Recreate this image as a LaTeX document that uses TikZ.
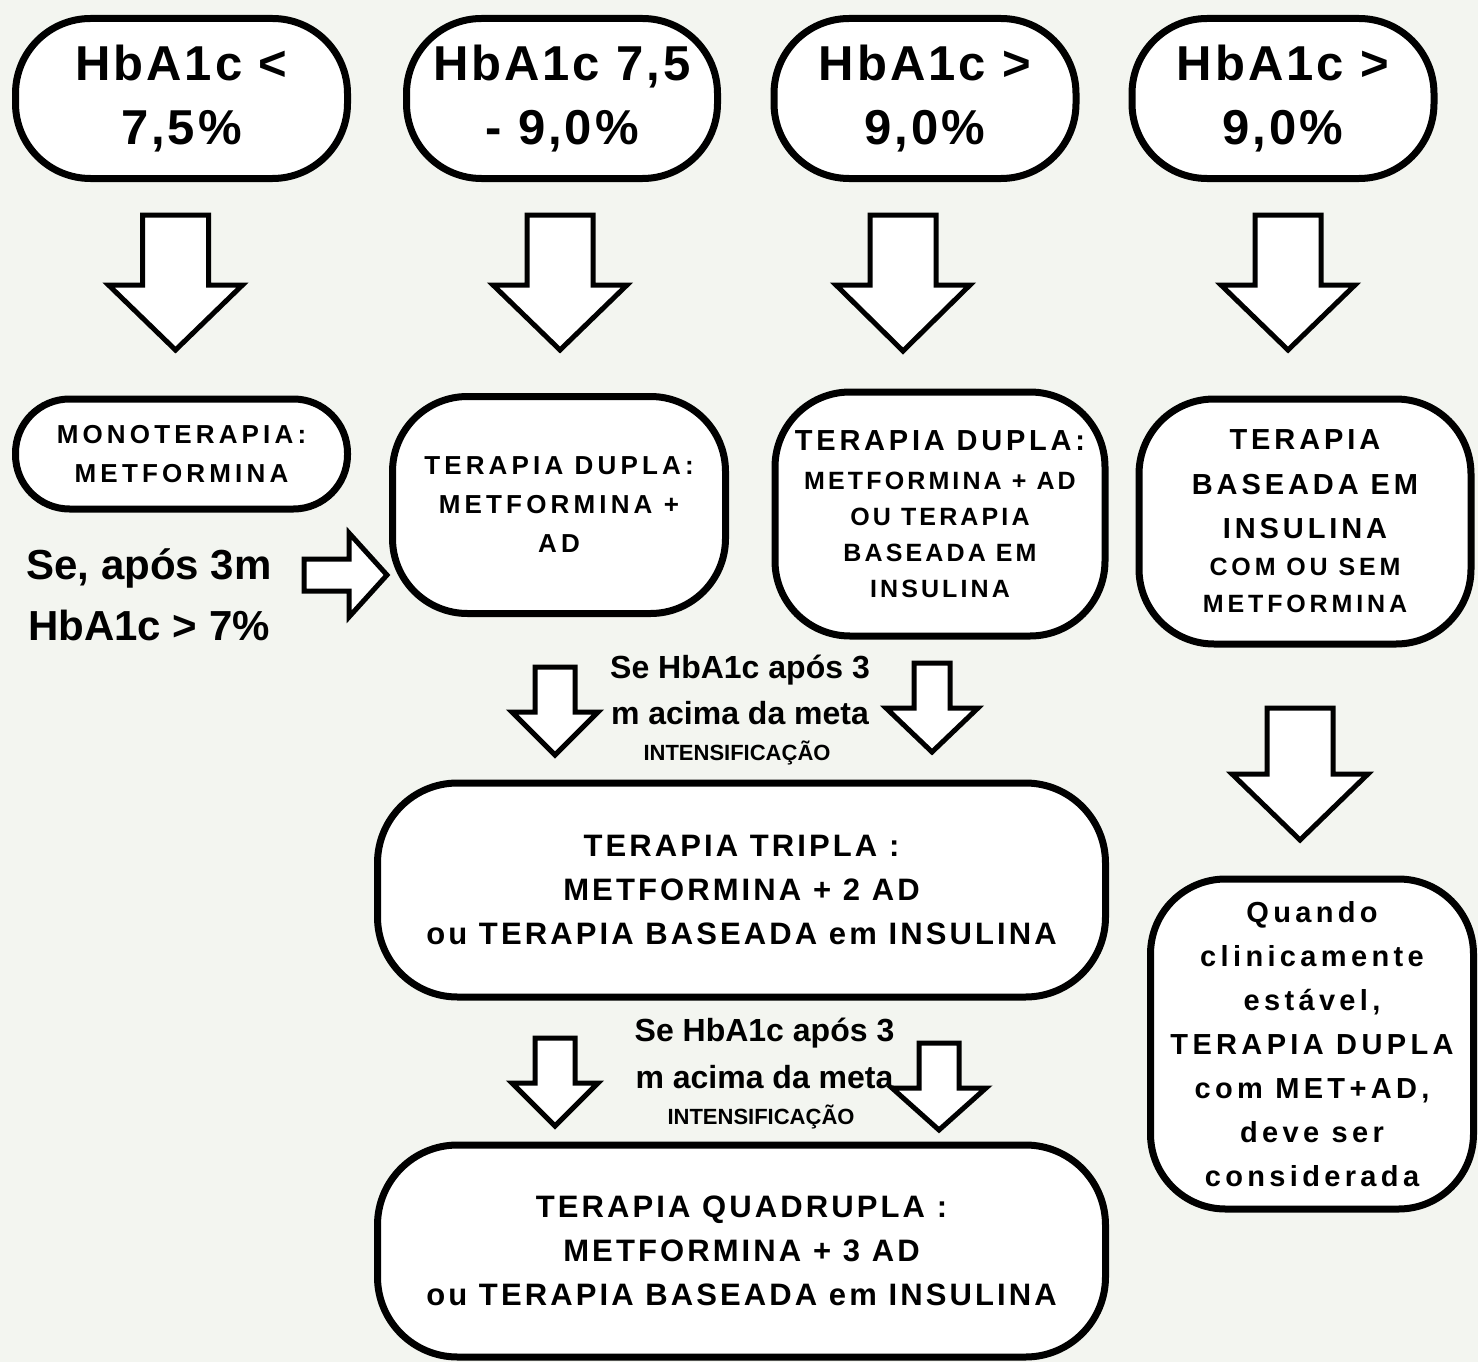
\documentclass[tikz,border=0pt]{standalone}
\usepackage{fontspec}
\setmainfont{Liberation Sans}
\definecolor{bgc}{RGB}{243,245,240}
\newcommand\tf[3]{\fontsize{#1}{#2}\selectfont\addfontfeature{LetterSpace=#3}}
\newcommand\dnarrow[6]{\draw[blockarrow] (#1-#3,#2) -- (#1+#3,#2) -- (#1+#3,#5) -- (#1+#4,#5) -- (#1,#6) -- (#1-#4,#5) -- (#1-#3,#5) -- cycle;}
\tikzset{
  box/.style={draw=black, line width=7pt, fill=white, rounded corners=#1, align=center, inner sep=0pt},
  box/.default=75pt,
  blockarrow/.style={draw=black, line width=5pt, fill=white, line join=miter},
  lbl/.style={inner sep=0pt, anchor=base},
  topf/.style={font={\bfseries\tf{49}{64}{6}}},
  smallf/.style={font={\bfseries\tf{26}{39}{16}}},
  bigf/.style={font={\bfseries\tf{31}{44}{10}}},
  quandof/.style={font={\bfseries\tf{29}{44}{15}}},
}
\begin{document}
\begin{tikzpicture}[x=1pt,y=-1pt]
\fill[bgc] (0,0) rectangle (1478,1362);
\useasboundingbox (0,0) rectangle (1478,1362);

% top row
\node[box, topf, minimum width=332pt, minimum height=160pt] (h1) at (181.5,98.5) {HbA1c <\\7,5\%};
\node[box, topf, minimum width=311pt, minimum height=160pt] (h2) at (562,98.5) {HbA1c 7,5\\- 9,0\%};
\node[box, topf, minimum width=302pt, minimum height=160pt] (h3) at (925,98.5) {HbA1c >\\9,0\%};
\node[box, topf, minimum width=302pt, minimum height=160pt] (h4) at (1283,98.5) {HbA1c >\\9,0\%};

% top arrows
\dnarrow{175.5}{215}{33}{67}{285}{350}
\dnarrow{560}{215}{33}{67}{285}{350}
\dnarrow{903}{215}{33}{67}{285}{351}
\dnarrow{1288}{215}{33}{67}{285}{350}

% second row
\node[box=54pt, smallf, minimum width=332pt, minimum height=110pt] (mono) at (181.5,454) {MONOTERAPIA:\\METFORMINA};
\node[box, smallf, minimum width=333pt, minimum height=217pt] (dup1) at (559,505) {TERAPIA DUPLA:\\METFORMINA +\\AD};
\node[box, font={\bfseries\tf{25}{36}{12.5}}, minimum width=330pt, minimum height=244pt] (dup2) at (940,514) {{\tf{29}{36}{13}TERAPIA DUPLA:}\\[3pt]METFORMINA + AD\\OU TERAPIA\\BASEADA EM\\INSULINA};
\node[box, font={\bfseries\tf{25}{37}{15.5}}, minimum width=332pt, minimum height=245pt] (ins) at (1305,521.5) {{\tf{29}{44}{13.5}TERAPIA}\\[7.5pt]{\tf{29}{44}{13.5}BASEADA EM}\\[7.5pt]{\tf{29}{44}{13.5}INSULINA}\\COM OU SEM\\METFORMINA};

% left condition
\node[lbl, font={\bfseries\tf{42}{62}{0}}] (c1) at (149,579) {Se, após 3m};
\node[lbl, font={\bfseries\tf{42}{62}{0}}] (c2) at (149,640) {HbA1c > 7\%};
\draw[blockarrow] (304,559) -- (349,559) -- (349,533) -- (387,575) -- (349,617) -- (349,591) -- (304,591) -- cycle;

% middle intensification
\node[lbl, font={\bfseries\tf{32}{47}{0}}] (m1) at (740,678) {Se HbA1c após 3};
\node[lbl, font={\bfseries\tf{32}{47}{0}}] (m2) at (740,724) {m acima da meta};
\node[lbl, font={\bfseries\tf{22}{30}{0}}] (m3) at (737,760) {INTENSIFICAÇÃO};
\dnarrow{555}{667}{20}{43}{712}{755}
\dnarrow{932}{663}{18}{46}{708}{752}

% triple
\node[box=80pt, bigf, minimum width=728pt, minimum height=214pt] (tri) at (741.5,890) {TERAPIA TRIPLA :\\METFORMINA + 2 AD\\ou TERAPIA BASEADA em INSULINA};

% bottom intensification
\node[lbl, font={\bfseries\tf{32}{47}{0}}] (b1) at (764.5,1041) {Se HbA1c após 3};
\node[lbl, font={\bfseries\tf{32}{47}{0}}] (b2) at (764.5,1088) {m acima da meta};
\node[lbl, font={\bfseries\tf{22}{30}{0}}] (b3) at (761,1124) {INTENSIFICAÇÃO};
\dnarrow{555}{1038}{20}{43}{1083}{1126}
\dnarrow{939}{1043}{20}{47}{1088}{1130}

% quadruple
\node[box=80pt, bigf, minimum width=728pt, minimum height=212pt] (quad) at (741.5,1251) {TERAPIA QUADRUPLA :\\METFORMINA + 3 AD\\ou TERAPIA BASEADA em INSULINA};

% right column
\dnarrow{1300}{708}{33}{68}{774}{840}
\node[box, quandof, minimum width=323pt, minimum height=330pt] (qua) at (1312,1044) {Quando\\clinicamente\\estável,\\TERAPIA DUPLA\\com MET+AD,\\deve ser\\considerada};
\end{tikzpicture}
\end{document}
